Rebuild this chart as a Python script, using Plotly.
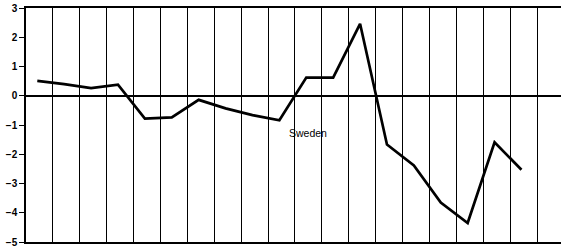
import plotly.graph_objects as go

# Period index (one point per period, unlabelled on the original)
periods = [0, 1, 2, 3, 4, 5, 6, 7, 8, 9, 10, 11, 12, 13, 14, 15, 16, 17, 18]
sweden = [0.51, 0.40, 0.26, 0.38, -0.78, -0.74, -0.14, -0.43, -0.66, -0.84,
          0.62, 0.62, 2.46, -1.67, -2.38, -3.65, -4.35, -1.59, -2.53]
y_ticks = [3, 2, 1, 0, -1, -2, -3, -4, -5]
y_tick_text = ["3", "2", "1", "0", "\u22121", "\u22122", "\u22123", "\u22124", "\u22125"]
series_label = "Sweden"

fig = go.Figure()
fig.add_trace(go.Scatter(
    x=periods, y=sweden, mode="lines",
    line=dict(color="black", width=2.7),
    showlegend=False, hoverinfo="skip",
))

fig.add_annotation(x=10.06, y=-1.26, text=series_label, showarrow=False,
                   font=dict(family="Liberation Sans, Arial, sans-serif", size=10.5, color="black"))

fig.update_layout(
    width=561, height=247,
    margin=dict(l=26, r=0, t=8, b=5, autoexpand=False),
    paper_bgcolor="white", plot_bgcolor="white",
    xaxis=dict(
        range=[-0.42, 19.47],
        tick0=-0.42, dtick=1,
        showgrid=True, gridcolor="black", gridwidth=1.3,
        showticklabels=False, ticks="",
        showline=True, linecolor="black", linewidth=1.5, mirror=True,
        zeroline=False,
    ),
    yaxis=dict(
        range=[-5, 3],
        tickvals=y_ticks, ticktext=y_tick_text,
        showgrid=False,
        zeroline=True, zerolinecolor="black", zerolinewidth=1.5,
        showline=True, linecolor="black", linewidth=1.5,
        ticks="outside", ticklen=5, tickwidth=1.2, tickcolor="black",
        ticklabeloverflow="allow",
        tickfont=dict(family="Liberation Sans, Arial, sans-serif", size=10,
                      color="black", weight="bold"),
    ),
)

fig.write_html("out.html", config={"displayModeBar": False},
               post_script="document.body.style.margin='0';document.body.style.overflow='hidden';")
